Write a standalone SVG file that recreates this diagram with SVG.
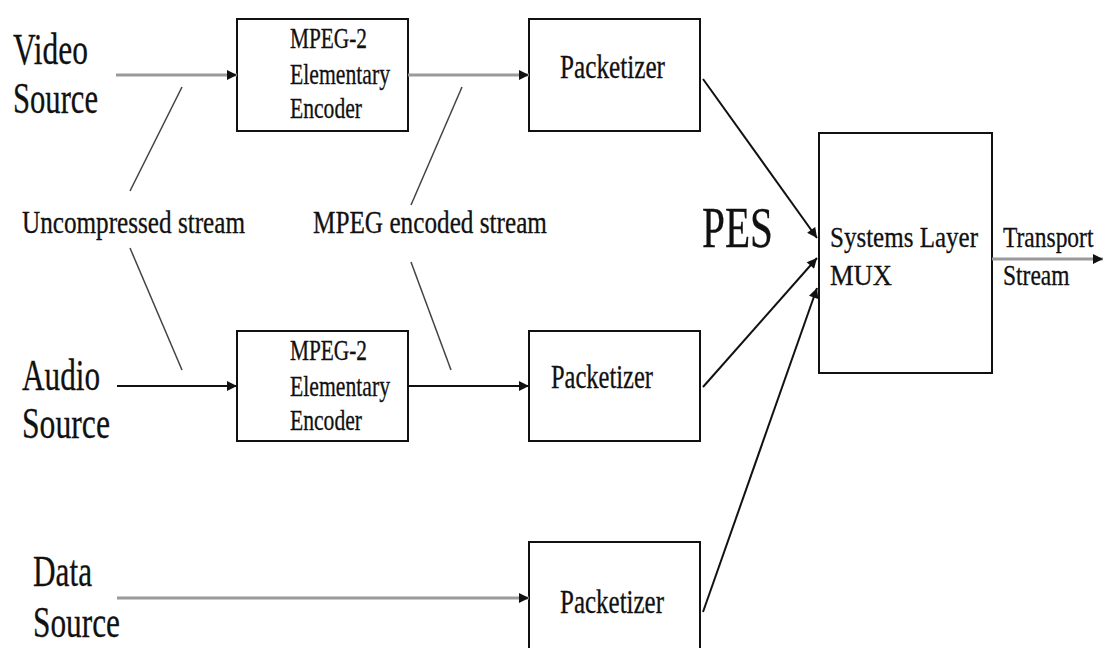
<svg xmlns="http://www.w3.org/2000/svg" width="1104" height="648" viewBox="0 0 1104 648">
  <style>
    .box { fill: #ffffff; stroke: #111111; stroke-width: 2; }
    .src { font-size: 44px; }
    .enc { font-size: 29px; }
    .pkt { font-size: 33px; }
    .lbl { font-size: 31px; }
    .mux { font-size: 29px; }
    .pes { font-size: 56px; }
    .flow-grey { stroke: #9a9a9a; stroke-width: 3; fill: none; }
    .flow-dark { stroke: #111111; stroke-width: 2; fill: none; }
    .pointer { stroke: #444444; stroke-width: 1.5; fill: none; }
  </style>
  <defs>
    <marker id="head" viewBox="0 0 10 10" refX="10" refY="5" markerWidth="11" markerHeight="10" markerUnits="userSpaceOnUse" orient="auto">
      <path d="M0,0 L10,5 L0,10 z" fill="#111111"/>
    </marker>
  </defs>

  <rect width="1104" height="648" fill="#ffffff"/>

  <g font-family="'Liberation Serif', 'Times New Roman', 'DejaVu Serif', serif" fill="#111111" stroke="#111111" stroke-width="0.3">
  <!-- source labels -->
  <g id="video-source">
    <text class="src" x="13" y="64" textLength="75" lengthAdjust="spacingAndGlyphs">Video</text>
    <text class="src" x="13" y="113" textLength="85" lengthAdjust="spacingAndGlyphs">Source</text>
  </g>
  <g id="audio-source">
    <text class="src" x="22" y="390" textLength="78" lengthAdjust="spacingAndGlyphs">Audio</text>
    <text class="src" x="22" y="438" textLength="88" lengthAdjust="spacingAndGlyphs">Source</text>
  </g>
  <g id="data-source">
    <text class="src" x="33" y="586" textLength="59" lengthAdjust="spacingAndGlyphs">Data</text>
    <text class="src" x="33" y="637" textLength="87" lengthAdjust="spacingAndGlyphs">Source</text>
  </g>

  <!-- encoders -->
  <g id="video-encoder">
    <rect class="box" x="237" y="19" width="171" height="112"/>
    <text class="enc" x="290" y="48" textLength="77" lengthAdjust="spacingAndGlyphs">MPEG-2</text>
    <text class="enc" x="290" y="84" textLength="100" lengthAdjust="spacingAndGlyphs">Elementary</text>
    <text class="enc" x="290" y="118" textLength="72" lengthAdjust="spacingAndGlyphs">Encoder</text>
  </g>
  <g id="audio-encoder">
    <rect class="box" x="237" y="331" width="171" height="110"/>
    <text class="enc" x="290" y="360" textLength="77" lengthAdjust="spacingAndGlyphs">MPEG-2</text>
    <text class="enc" x="290" y="396" textLength="100" lengthAdjust="spacingAndGlyphs">Elementary</text>
    <text class="enc" x="290" y="430" textLength="72" lengthAdjust="spacingAndGlyphs">Encoder</text>
  </g>

  <!-- packetizers -->
  <g id="video-packetizer">
    <rect class="box" x="529" y="19" width="171" height="112"/>
    <text class="pkt" x="560" y="78" textLength="105" lengthAdjust="spacingAndGlyphs">Packetizer</text>
  </g>
  <g id="audio-packetizer">
    <rect class="box" x="529" y="331" width="171" height="110"/>
    <text class="pkt" x="551" y="388" textLength="102" lengthAdjust="spacingAndGlyphs">Packetizer</text>
  </g>
  <g id="data-packetizer">
    <rect class="box" x="529" y="542" width="171" height="130"/>
    <text class="pkt" x="560" y="613" textLength="104" lengthAdjust="spacingAndGlyphs">Packetizer</text>
  </g>

  <!-- multiplexer -->
  <g id="systems-mux">
    <rect class="box" x="819" y="133" width="173" height="240"/>
    <text class="mux" x="830" y="247" textLength="148" lengthAdjust="spacingAndGlyphs">Systems Layer</text>
    <text class="mux" x="830" y="285" textLength="62" lengthAdjust="spacingAndGlyphs">MUX</text>
  </g>

  <!-- stream labels -->
  <g id="label-uncompressed">
    <text class="lbl" x="22" y="233" textLength="223" lengthAdjust="spacingAndGlyphs">Uncompressed stream</text>
  </g>
  <g id="label-encoded">
    <text class="lbl" x="313" y="233" textLength="234" lengthAdjust="spacingAndGlyphs">MPEG encoded stream</text>
  </g>
  <g id="label-pes">
    <text class="pes" x="702" y="247" textLength="71" lengthAdjust="spacingAndGlyphs">PES</text>
  </g>
  <g id="label-transport">
    <!-- condensed horizontally so the word stays inside the right edge -->
    <text class="mux" transform="translate(1003,247) scale(0.81,1)" x="0" y="0">Transport</text>
    <text class="mux" transform="translate(1003,285) scale(0.81,1)" x="0" y="0">Stream</text>
  </g>
  </g>

  <!-- connectors -->
  <g id="connectors">
    <line class="flow-grey" x1="116" y1="75" x2="237" y2="75" marker-end="url(#head)"/>
    <line class="flow-grey" x1="408" y1="75" x2="529" y2="75" marker-end="url(#head)"/>
    <line class="flow-dark" x1="117" y1="386" x2="237" y2="386" marker-end="url(#head)"/>
    <line class="flow-dark" x1="408" y1="386" x2="529" y2="386" marker-end="url(#head)"/>
    <line class="flow-grey" x1="117" y1="598" x2="529" y2="598" marker-end="url(#head)"/>

    <line class="flow-dark" x1="703" y1="79" x2="817" y2="238" marker-end="url(#head)"/>
    <line class="flow-dark" x1="703" y1="387" x2="817" y2="258" marker-end="url(#head)"/>
    <line class="flow-dark" x1="703" y1="612" x2="817" y2="288" marker-end="url(#head)"/>

    <line class="flow-grey" x1="992" y1="259" x2="1103" y2="259" marker-end="url(#head)"/>

    <!-- label pointers -->
    <line class="pointer" x1="182" y1="87" x2="130" y2="191"/>
    <line class="pointer" x1="130" y1="248" x2="182" y2="370"/>
    <line class="pointer" x1="462" y1="87" x2="411" y2="205"/>
    <line class="pointer" x1="411" y1="262" x2="451" y2="370"/>
  </g>
</svg>
